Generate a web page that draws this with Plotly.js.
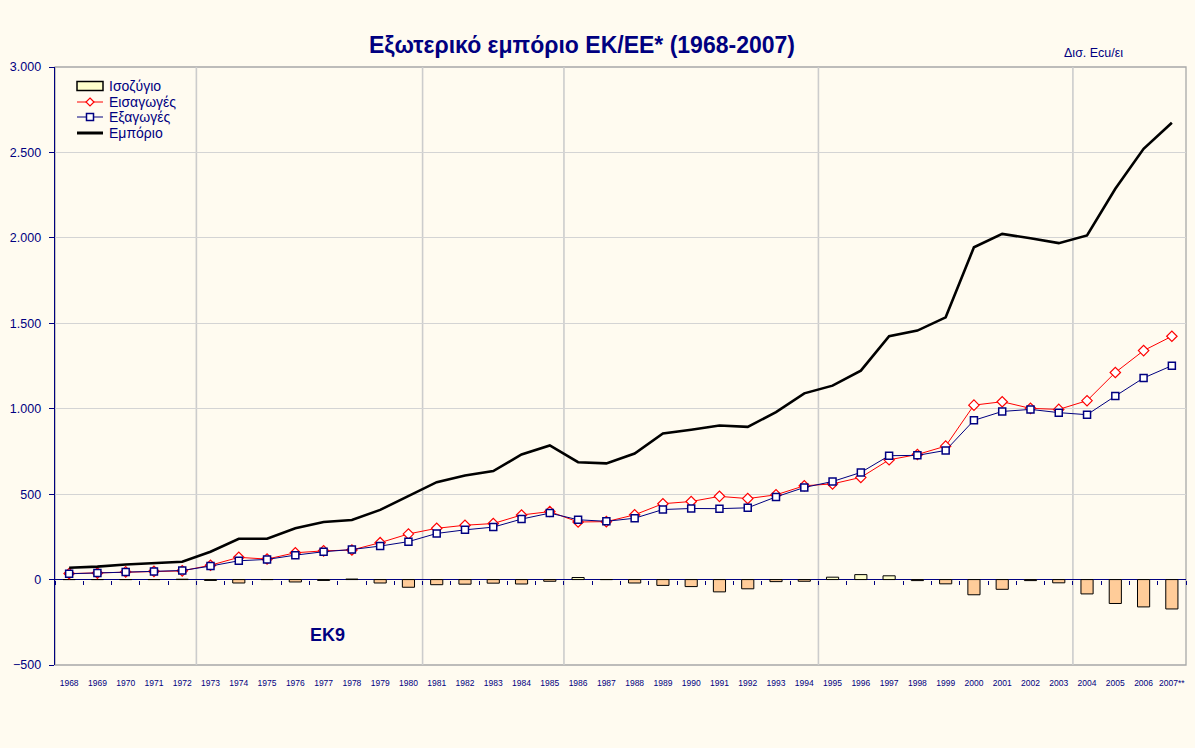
<!DOCTYPE html>
<html>
<head>
<meta charset="utf-8">
<script src="https://cdn.plot.ly/plotly-3.0.1.min.js"></script>
<style>
html,body{margin:0;padding:0;background:#FFFBF0;}
#chart{width:1195px;height:748px;}
</style>
</head>
<body>
<div id="chart"></div>
<script>
const years = ['1968','1969','1970','1971','1972','1973','1974','1975','1976','1977','1978','1979','1980',
  '1981','1982','1983','1984','1985','1986','1987','1988','1989','1990','1991','1992','1993','1994',
  '1995','1996','1997','1998','1999','2000','2001','2002','2003','2004','2005','2006','2007**'];

const imports = [35,38,45,48,51,84,130,120,157,168,173,216,267,300,318,328,378,398,337,339,379,444,457,487,474,496,549,
  560,598,701,732,781,1021,1041,1002,996,1047,1212,1340,1424];
const exportsV = [34,38,44,47,53,79,110,118,143,163,176,196,222,270,291,307,354,389,350,341,359,410,416,415,420,484,539,
  574,627,725,727,756,932,984,996,977,965,1074,1180,1252];
const trade = [69,76,88,96,104,163,239,239,300,337,349,408,490,570,609,635,732,785,687,680,738,855,877,902,894,980,1090,
  1135,1223,1424,1457,1535,1945,2023,1998,1969,2014,2287,2521,2674];
const balance = [0,0,0,0,2,-5,-20,0,-14,-5,3,-20,-45,-30,-27,-21,-26,-10,12,0,-20,-34,-41,-72,-54,-12,-10,
  14,29,22,-6,-25,-89,-57,-6,-19,-84,-140,-160,-172];

const seriesNames = ['Ισοζύγιο','Εισαγωγές','Εξαγωγές','Εμπόριο'];
const enlargementStarts = ['1973','1981','1986','1995','2004'];
const yTicks = [-500,0,500,1000,1500,2000,2500,3000];

const NAVY = '#000080';
const FONT = 'Liberation Sans, Arial, sans-serif';

// plot-area geometry (pixels) used for decorative placements
const PL = 55, PR = 1186, PT = 67, PB = 665;
const px = v => (v - PL) / (PR - PL);
const py = v => (PB - v) / (PB - PT);

const traces = [
  {
    type:'bar', name:seriesNames[0], x:years, y:balance, width:0.43,
    marker:{color:balance.map(v => v >= 0 ? '#FFFFCC' : '#FFCC99'), line:{color:'#000000', width:1}},
    showlegend:false
  },
  {
    type:'scatter', mode:'lines+markers', name:seriesNames[1], x:years, y:imports,
    line:{color:'#FF0000', width:1},
    marker:{symbol:'diamond', size:8, color:'#FFFFFF', line:{color:'#FF0000', width:1.2}},
    showlegend:false
  },
  {
    type:'scatter', mode:'lines+markers', name:seriesNames[2], x:years, y:exportsV,
    line:{color:NAVY, width:1},
    marker:{symbol:'square', size:7, color:'#FFFFFF', line:{color:NAVY, width:1.5}},
    showlegend:false
  },
  {
    type:'scatter', mode:'lines', name:seriesNames[3], x:years, y:trade,
    line:{color:'#000000', width:2.6},
    showlegend:false
  }
];

const nCat = years.length;
const boundaryTicks = [];
for (let i = 0; i <= nCat; i++) boundaryTicks.push(i - 0.5);

const shapes = [
  {type:'rect', xref:'paper', yref:'paper', x0:0, x1:1, y0:0, y1:1, layer:'below',
   line:{color:'#A8A8A8', width:1.3}}
];
enlargementStarts.forEach(y => {
  const idx = years.indexOf(y);
  shapes.push({type:'line', xref:'x', yref:'paper', x0:idx-0.5, x1:idx-0.5, y0:0, y1:1, layer:'below',
    line:{color:'#CCCCCC', width:1.6}});
});

// custom legend (Excel style): symbols
const legRows = [86, 102, 117, 133];
const lx0 = 77, lx1 = 103, lxc = 90;
shapes.push({type:'rect', xref:'paper', yref:'paper', x0:px(lx0), x1:px(lx1), y0:py(legRows[0]-4.5), y1:py(legRows[0]+4.5),
  fillcolor:'#FFFFCC', line:{color:'#000000', width:1.5}});
shapes.push({type:'line', xref:'paper', yref:'paper', x0:px(lx0), x1:px(lx1), y0:py(legRows[1]), y1:py(legRows[1]),
  line:{color:'#FF0000', width:1}});
shapes.push({type:'path', xref:'paper', yref:'paper',
  path:`M ${px(lxc)} ${py(legRows[1]-4)} L ${px(lxc+4)} ${py(legRows[1])} L ${px(lxc)} ${py(legRows[1]+4)} L ${px(lxc-4)} ${py(legRows[1])} Z`,
  fillcolor:'#FFFFFF', line:{color:'#FF0000', width:1.2}});
shapes.push({type:'line', xref:'paper', yref:'paper', x0:px(lx0), x1:px(lx1), y0:py(legRows[2]), y1:py(legRows[2]),
  line:{color:NAVY, width:1}});
shapes.push({type:'rect', xref:'paper', yref:'paper', x0:px(lxc-3.5), x1:px(lxc+3.5), y0:py(legRows[2]-3.5), y1:py(legRows[2]+3.5),
  fillcolor:'#FFFFFF', line:{color:NAVY, width:1.5}});
shapes.push({type:'line', xref:'paper', yref:'paper', x0:px(lx0), x1:px(lx1), y0:py(legRows[3]), y1:py(legRows[3]),
  line:{color:'#000000', width:3}});

const yMin = -500, yMax = 3000;
const zeroPos = (0 - yMin) / (yMax - yMin);

const annotations = [
  {text:'<b>EK9</b>', xref:'paper', yref:'paper', x:px(327), y:py(635), showarrow:false,
    font:{family:FONT, size:18, color:NAVY}, xanchor:'center', yanchor:'middle'},
  {text:'Δισ. Ecu/ει', xref:'paper', yref:'paper', x:px(1093), y:py(53), showarrow:false,
    font:{family:FONT, size:12.5, color:NAVY}, xanchor:'center', yanchor:'middle'}
];
seriesNames.forEach((n, i) => {
  annotations.push({text:n, xref:'paper', yref:'paper', x:px(107), y:py(legRows[i]), showarrow:false,
    font:{family:FONT, size:14, color:NAVY}, xanchor:'left', yanchor:'middle'});
});

const layout = {
  width:1195, height:748,
  paper_bgcolor:'#FFFBF0', plot_bgcolor:'#FFFBF0',
  margin:{l:PL, r:1195-PR, t:PT, b:748-PB},
  separators:',.',
  font:{family:FONT, color:NAVY},
  showlegend:false,
  title:{text:'<b>Εξωτερικό εμπόριο ΕΚ/ΕΕ* (1968-2007)</b>', font:{family:FONT, size:23, color:NAVY},
    x:0.487, xref:'container', xanchor:'center', y:0.94, yref:'container', yanchor:'middle'},
  xaxis:{type:'category', categoryarray:years, range:[-0.5, nCat-0.5], showgrid:false, zeroline:false,
    showline:false, ticks:'outside', ticklen:10, tickcolor:'rgba(0,0,0,0)',
    tickfont:{family:FONT, size:8.5, color:NAVY}, tickangle:0, fixedrange:true},
  xaxis2:{type:'linear', overlaying:'x', anchor:'free', position:zeroPos, range:[-0.5, nCat-0.5],
    tickvals:boundaryTicks, showticklabels:false, ticks:'outside', ticklen:4, tickcolor:NAVY, tickwidth:1,
    showgrid:false, zeroline:false, showline:false, side:'bottom'},
  yaxis:{range:[yMin, yMax], tickvals:yTicks, separatethousands:true, tickformat:',d',
    showgrid:true, gridcolor:'#D4D4D4', gridwidth:1,
    zeroline:true, zerolinecolor:NAVY, zerolinewidth:1.4,
    showline:true, linecolor:NAVY, linewidth:1.4, ticks:'outside', ticklen:5, tickcolor:NAVY,
    ticklabelstandoff:5,
    tickfont:{family:FONT, size:12.5, color:NAVY}},
  bargap:0.57,
  shapes:shapes,
  annotations:annotations
};

// invisible helper trace so the zero-line tick axis is drawn
traces.push({type:'scatter', x:[0], y:[0], xaxis:'x2', mode:'markers', marker:{opacity:0}, showlegend:false, hoverinfo:'skip'});

Plotly.newPlot('chart', traces, layout, {displayModeBar:false, staticPlot:true});
</script>
</body>
</html>
